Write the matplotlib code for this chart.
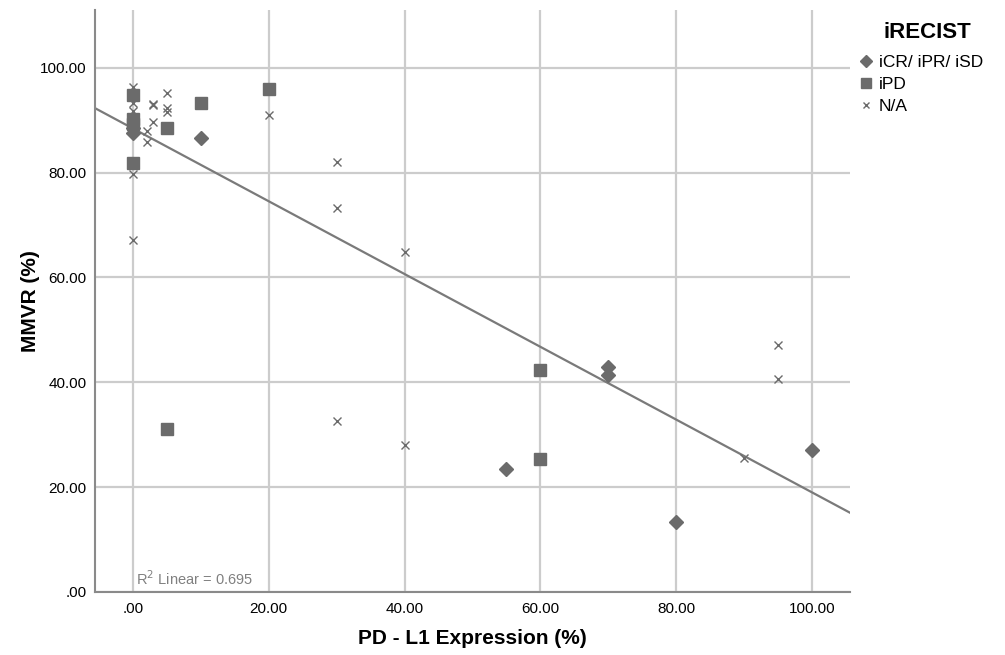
import matplotlib.pyplot as plt
import numpy as np
from matplotlib.ticker import FuncFormatter

plt.rcParams['font.family'] = ['Liberation Sans', 'DejaVu Sans']

# iCR/ iPR/ iSD
resp_x = [0, 0, 10, 55, 70, 70, 80, 100]
resp_y = [88.5, 87.6, 86.6, 23.5, 43.0, 41.4, 13.3, 27.0]

# iPD
pd_x = [0, 0, 0, 0, 5, 5, 10, 20, 60, 60]
pd_y = [94.8, 90.2, 89.3, 81.8, 88.5, 31.0, 93.2, 95.9, 42.4, 25.4]

# N/A
na_x = [0, 0, 0, 0, 0, 2, 2, 3, 3, 3, 5, 5, 5, 20, 30, 30, 30, 40, 40, 90, 95, 95]
na_y = [96.3, 93.2, 91.8, 79.7, 67.2, 88.0, 85.9, 92.8, 93.0, 89.6,
        95.2, 92.3, 91.5, 91.0, 82.1, 73.2, 32.7, 64.8, 28.1, 25.6, 47.2, 40.7]

# linear fit as shown on the chart
fit_intercept = 88.4
fit_slope = -0.694
r2_text = 'R$^2$ Linear = 0.695'

grey = '#6b6b6b'

fig = plt.figure(figsize=(10.05, 6.55), dpi=100)
ax = fig.add_axes([0.0945, 0.0962, 0.7513, 0.8885])

ax.set_xlim(-5.6, 105.6)
ax.set_ylim(0, 111)

xs = np.array(ax.get_xlim())
ax.plot(xs, fit_intercept + fit_slope * xs, color='#7a7a7a', linewidth=1.6, zorder=2)

ax.plot(resp_x, resp_y, 'D', color=grey, markersize=7.5, linestyle='none',
        label='iCR/ iPR/ iSD', zorder=3)
ax.plot(pd_x, pd_y, 's', color=grey, markersize=9, linestyle='none',
        label='iPD', zorder=3)
ax.plot(na_x, na_y, 'x', color=grey, markersize=5.5, markeredgewidth=1,
        linestyle='none', label='N/A', zorder=3)

ax.set_xticks([0, 20, 40, 60, 80, 100])
ax.set_yticks([0, 20, 40, 60, 80, 100])
fmt = FuncFormatter(lambda v, p: ('%.2f' % v).lstrip('0') if v == 0 else '%.2f' % v)
ax.xaxis.set_major_formatter(fmt)
ax.yaxis.set_major_formatter(fmt)
ax.tick_params(length=0, labelsize=11)
ax.tick_params(axis='x', pad=7.5)
ax.tick_params(axis='y', pad=6)
ax.grid(True, color='#cccccc', linewidth=1.6, zorder=0)
ax.set_axisbelow(True)

for s in ['top', 'right']:
    ax.spines[s].set_visible(False)
for s in ['left', 'bottom']:
    ax.spines[s].set_color('#8a8a8a')
    ax.spines[s].set_linewidth(1.5)

ax.set_xlabel('PD - L1 Expression (%)', fontsize=15, fontweight='bold', labelpad=9)
ax.set_ylabel('MMVR (%)', fontsize=15, fontweight='bold', labelpad=0)

ax.text(0.5, 0.8, r2_text, color='#808080', fontsize=10.5, va='bottom', ha='left')

fig.text(927 / 1005, 1 - 33 / 655, 'iRECIST', fontsize=16, fontweight='bold',
         ha='center', va='center')
leg = fig.legend(loc='upper left', bbox_to_anchor=(859 / 1005, 1 - 55 / 655),
                 frameon=False, fontsize=12.5, handlelength=0.8,
                 handletextpad=0.35, labelspacing=0.4, markerscale=0.75,
                 borderaxespad=0, borderpad=0)

fig.savefig('out.png', dpi=100)
